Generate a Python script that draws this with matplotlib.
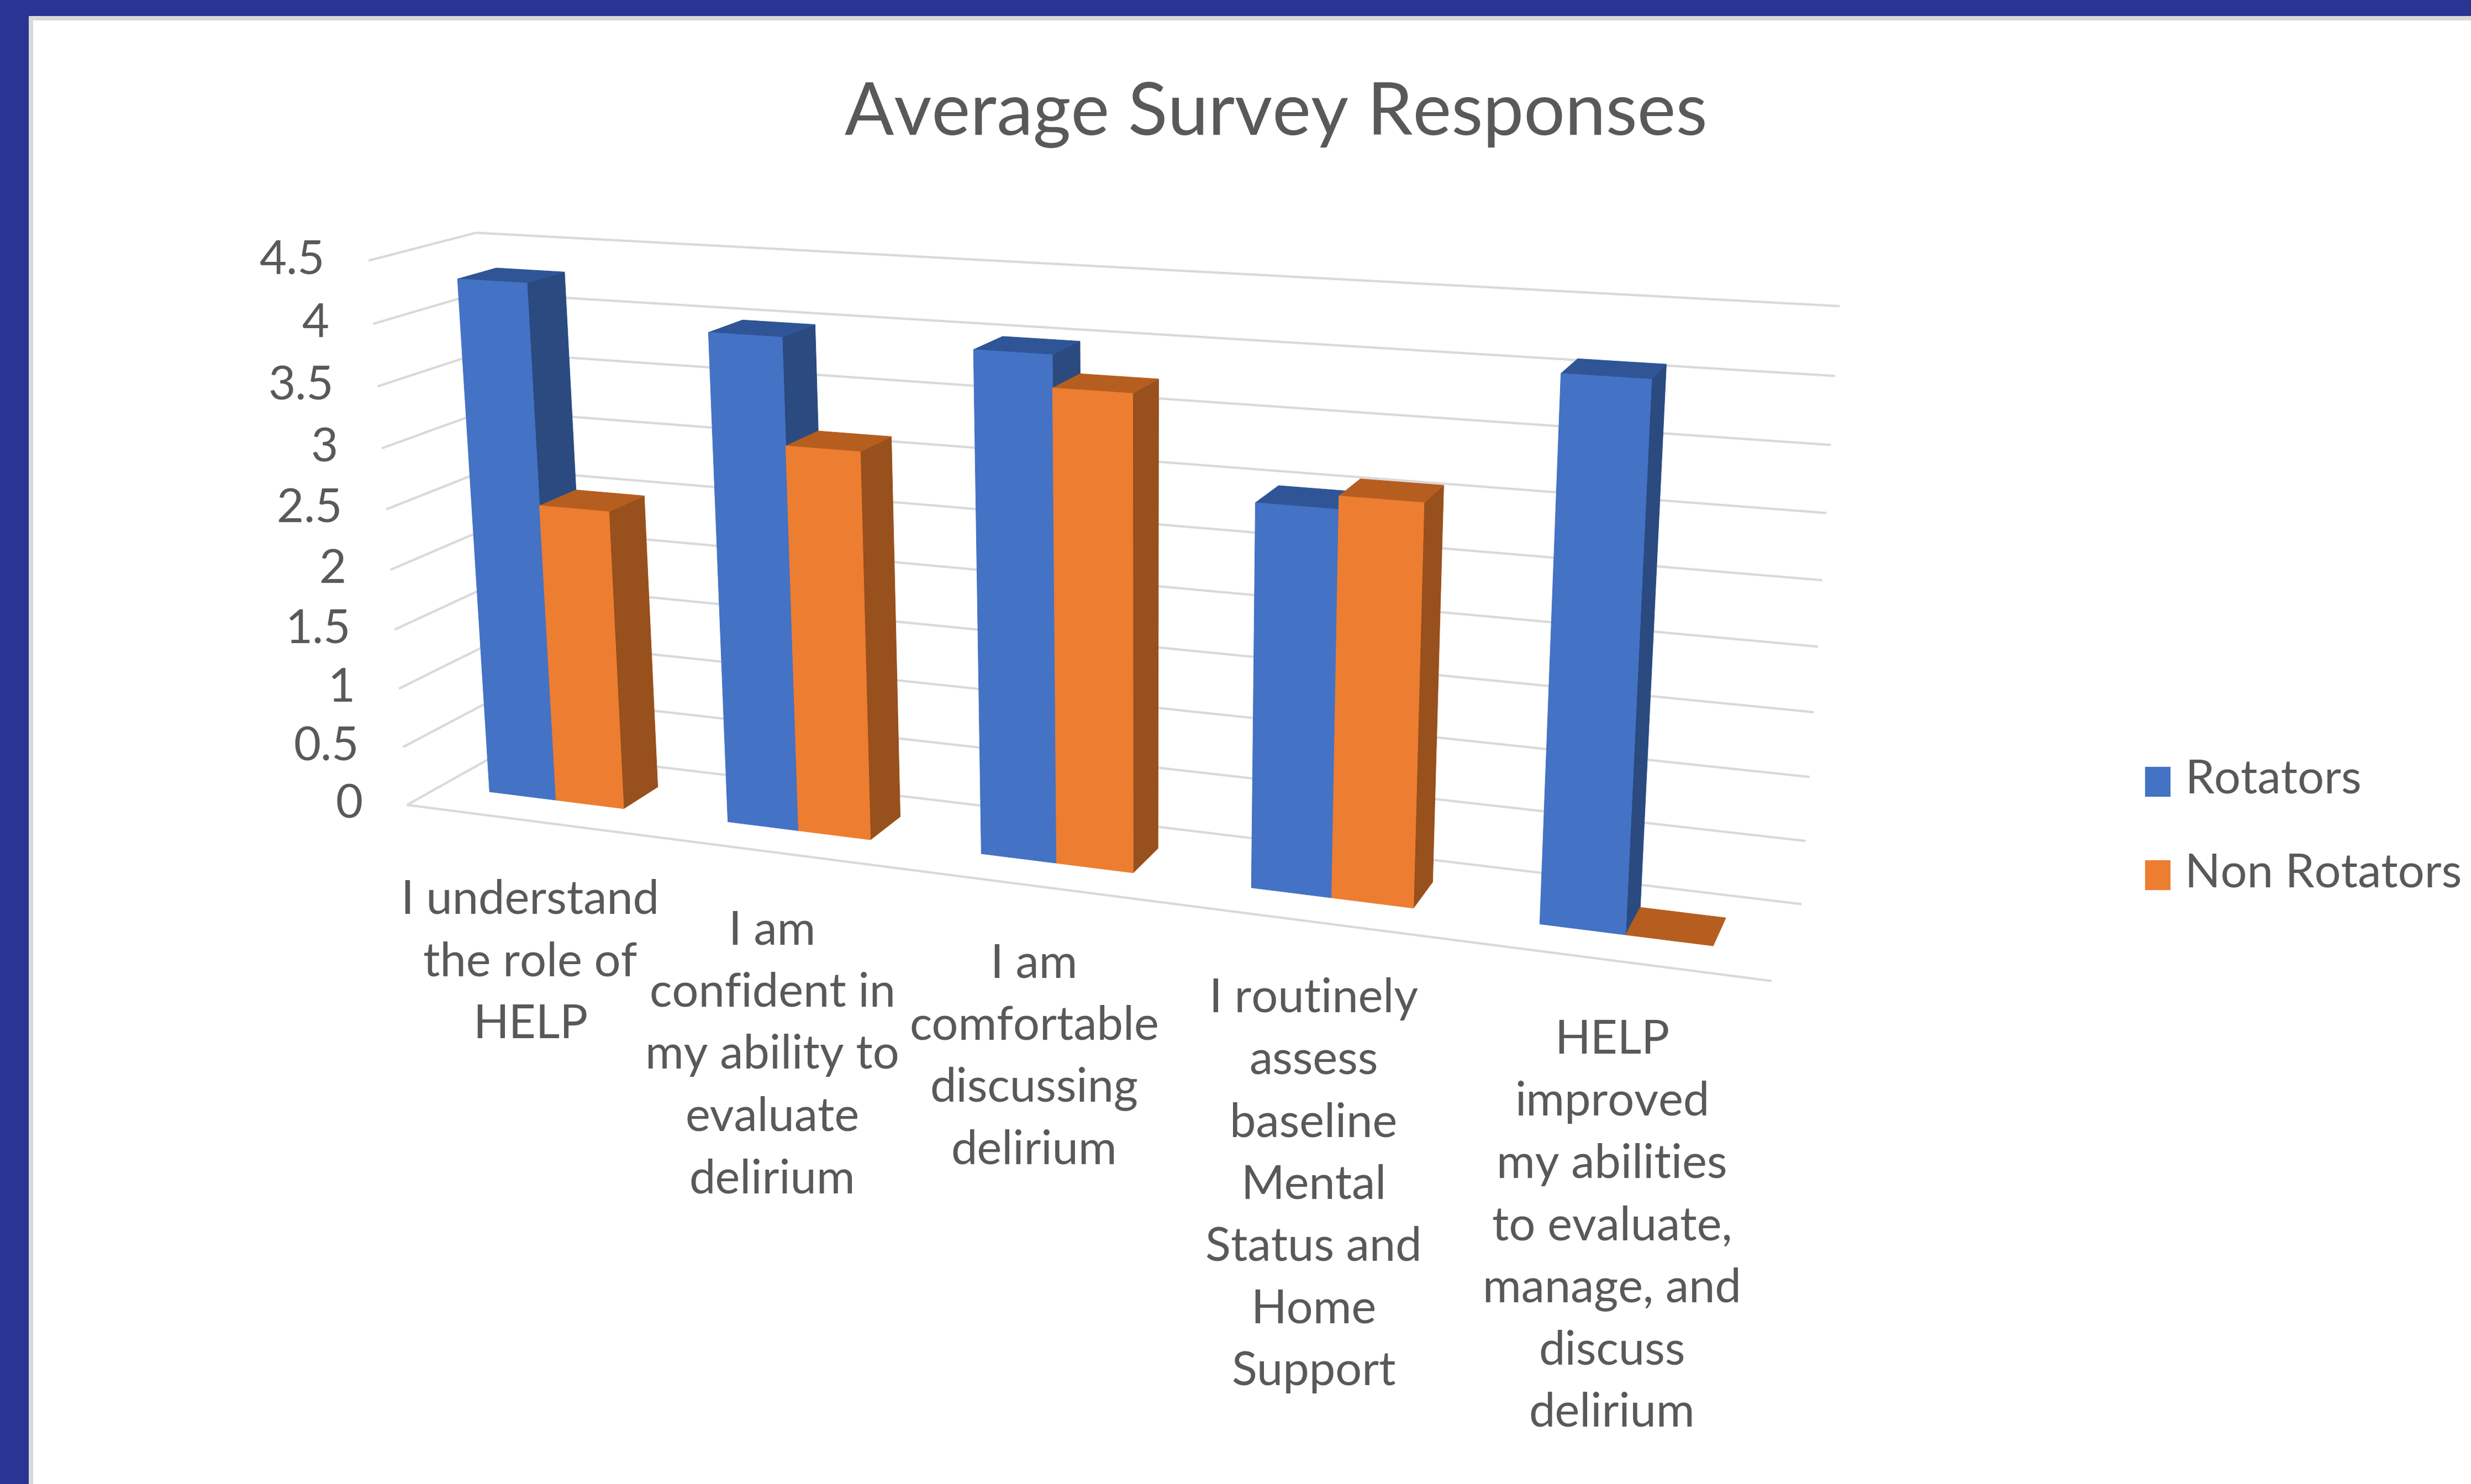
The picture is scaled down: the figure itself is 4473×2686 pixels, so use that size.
import numpy as np
import matplotlib
matplotlib.use("Agg")
from matplotlib import pyplot as plt
from matplotlib.patches import Rectangle

W, H = 4473, 2686

# Data
TITLE = "Average Survey Responses"
SERIES = ["Rotators", "Non Rotators"]
rotators = [4.3, 4.0, 4.0, 3.0, 4.1]
non_rotators = [2.5, 3.15, 3.75, 3.1, 0.0]
value_ticks = [0, 0.5, 1, 1.5, 2, 2.5, 3, 3.5, 4, 4.5]
tick_labels = ["0", "0.5", "1", "1.5", "2", "2.5", "3", "3.5", "4", "4.5"]
categories = [
    ["I understand", "the role of", "HELP"],
    ["I am", "confident in", "my ability to", "evaluate", "delirium"],
    ["I am", "comfortable", "discussing", "delirium"],
    ["I routinely", "assess", "baseline", "Mental", "Status and", "Home", "Support"],
    ["HELP", "improved", "my abilities", "to evaluate,", "manage, and", "discuss", "delirium"],
]

# Layout
label_cx = [960, 1398, 1872, 2378, 2918]
label_y0 = [1630, 1685, 1745, 1808, 1883]
LABEL_PITCH = 112.5
BAR_X = [0.21, 0.495, 0.78]
BAR_Z = (0.33, 0.70)
BLUE = ("#4472C4", "#2A4A80", "#2F5597")
ORANGE = ("#ED7D31", "#98501C", "#B55E20")
TEXT = "#595959"
GRID = "#D9D9D9"

# Calibration of the 3D box: (category, value, depth) -> pixel
box_world = np.array([[0, 0, 0], [5, 0, 0], [0, 0, 1], [5, 0, 1],
                      [0, 4.5, 0], [0, 4.5, 1], [5, 4.5, 1]], dtype=float)
box_pixel = np.array([[737, 1457], [3207, 1775], [918, 1355], [3261, 1637],
                      [667, 472], [862, 421], [3330, 554]], dtype=float)


def fit_camera(world, pixel):
    rows = []
    for (x, y, z), (u, v) in zip(world, pixel):
        rows.append([x, y, z, 1, 0, 0, 0, 0, -u * x, -u * y, -u * z, -u])
        rows.append([0, 0, 0, 0, x, y, z, 1, -v * x, -v * y, -v * z, -v])
    return np.linalg.svd(np.array(rows))[2][-1].reshape(3, 4)


CAM = fit_camera(box_world, box_pixel)


def project(x, y, z):
    p = CAM @ np.array([x, y, z, 1.0])
    return p[0] / p[2], p[1] / p[2]


def face(ax, points, color):
    xy = np.array([project(*p) for p in points])
    ax.fill(xy[:, 0], xy[:, 1], facecolor=color, edgecolor=color, linewidth=0.8, zorder=3)


def bar(ax, x0, x1, value, colors):
    z0, z1 = BAR_Z
    if value > 0:
        face(ax, [(x1, 0, z0), (x1, 0, z1), (x1, value, z1), (x1, value, z0)], colors[1])
    face(ax, [(x0, value, z0), (x1, value, z0), (x1, value, z1), (x0, value, z1)], colors[2])
    if value > 0:
        face(ax, [(x0, 0, z0), (x1, 0, z0), (x1, value, z0), (x0, value, z0)], colors[0])


def line3d(ax, a, b):
    xy = np.array([project(*a), project(*b)])
    ax.plot(xy[:, 0], xy[:, 1], color=GRID, linewidth=3, solid_capstyle="butt", zorder=2)


plt.rcParams["font.family"] = ["Lato", "DejaVu Sans"]
fig = plt.figure(figsize=(W / 100, H / 100), dpi=100)
ax = fig.add_axes([0, 0, 1, 1])
ax.set_xlim(0, W)
ax.set_ylim(H, 0)
ax.axis("off")

# Slide frame
ax.add_patch(Rectangle((0, 0), W, 29, color="#283593", linewidth=0))
ax.add_patch(Rectangle((0, 0), 52, H, color="#283593", linewidth=0))
ax.add_patch(Rectangle((52, 29), W, 8, color="#D9D9D9", linewidth=0))
ax.add_patch(Rectangle((52, 29), 8, H, color="#D9D9D9", linewidth=0))

ax.text(2310, 208, TITLE, fontsize=95, color=TEXT, ha="center", va="center")

# Walls and floor
for v, lab in zip(value_ticks, tick_labels):
    line3d(ax, (0, v, 0), (0, v, 1))
    line3d(ax, (0, v, 1), (5, v, 1))
    px, py = project(0, v, 0)
    ax.text(px - 80, py, lab, fontsize=61, color=TEXT, ha="right", va="center")
line3d(ax, (0, 0, 0), (5, 0, 0))

# Bars
for i in range(len(categories)):
    bar(ax, i + BAR_X[0], i + BAR_X[1], rotators[i], BLUE)
    bar(ax, i + BAR_X[1], i + BAR_X[2], non_rotators[i], ORANGE)

# Category labels, one text per wrapped line
for lines, cx, y0 in zip(categories, label_cx, label_y0):
    for k, line in enumerate(lines):
        ax.text(cx, y0 + k * LABEL_PITCH, line, fontsize=61, color=TEXT, ha="center", va="center")

# Legend
for name, color, y in zip(SERIES, [BLUE[0], ORANGE[0]], [1388, 1557]):
    ax.add_patch(Rectangle((3883, y), 46, 54, color=color, linewidth=0))
    ax.text(3955, y + 48, name, fontsize=61, color=TEXT, ha="left", va="baseline")

fig.savefig("out.png", dpi=100, facecolor="white")
